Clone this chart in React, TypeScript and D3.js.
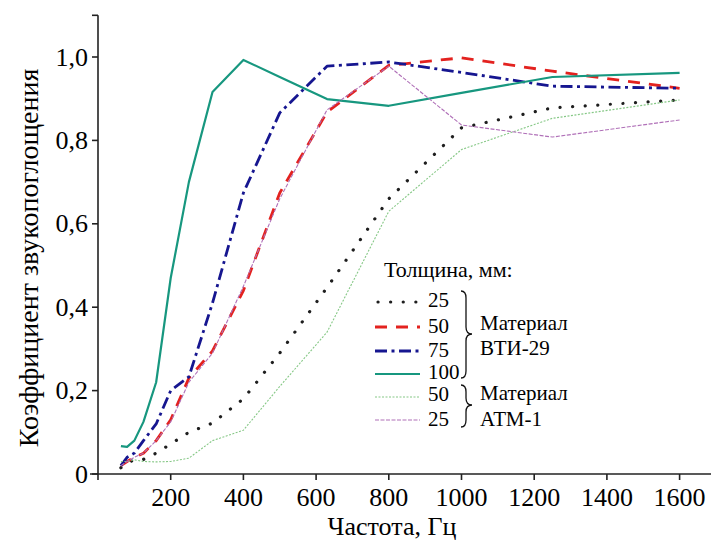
import React from "react";
import * as d3 from "d3";

// частоты, Гц
const freqs = [63, 80, 100, 125, 160, 200, 250, 315, 400, 500, 630, 800, 1000, 1250, 1600];

// ВТИ-29
const vti25 = [0.015, 0.025, 0.035, 0.035, 0.05, 0.072, 0.1, 0.122, 0.18, 0.29, 0.447, 0.66, 0.83, 0.878, 0.897];
const vti50 = [0.02, 0.03, 0.04, 0.05, 0.08, 0.13, 0.23, 0.295, 0.44, 0.674, 0.868, 0.98, 0.998, 0.966, 0.925];
const vti75 = [0.02, 0.04, 0.05, 0.08, 0.12, 0.2, 0.233, 0.41, 0.674, 0.866, 0.978, 0.988, 0.963, 0.93, 0.925];
const vti100 = [0.067, 0.065, 0.08, 0.125, 0.22, 0.47, 0.7, 0.916, 0.993, 0.952, 0.899, 0.883, 0.914, 0.952, 0.962];

// АТМ-1
const atm50 = [0.03, 0.03, 0.034, 0.03, 0.029, 0.03, 0.038, 0.08, 0.105, 0.21, 0.34, 0.63, 0.778, 0.853, 0.897];
const atm25 = [0.02, 0.03, 0.04, 0.05, 0.08, 0.125, 0.22, 0.29, 0.45, 0.66, 0.873, 0.978, 0.837, 0.808, 0.849];

const xTicks = [0, 200, 400, 600, 800, 1000, 1200, 1400, 1600];
const yTicks = [0, 0.2, 0.4, 0.6, 0.8, 1.0];

const legendLabels = ["25", "50", "75", "100", "50", "25"];
const groupLabels = [["Материал", "ВТИ-29"], ["Материал", "АТМ-1"]];

const FONT = "Liberation Serif";

const width = 711;
const height = 540;

const x = d3.scaleLinear().domain([0, 1690]).range([98, 98 + 1690 * 0.3635]);
const y = d3.scaleLinear().domain([0, 1.1]).range([474, 474 - 1.1 * 417]);

const series = [
    { values: vti25, color: "#1e1e1e", width: 3.2, dash: "0.1 12.5", cap: "round" },
    { values: vti50, color: "#e3221f", width: 2.8, dash: "12 9", cap: "butt" },
    { values: vti75, color: "#161690", width: 2.8, dash: "12 4.5 3 4.5", cap: "butt" },
    { values: vti100, color: "#17977f", width: 2.2, dash: undefined, cap: "butt" },
    { values: atm50, color: "#86c886", width: 1.1, dash: "2 1.5", cap: "butt" },
    { values: atm25, color: "#b070b8", width: 1.1, dash: "4 1.5", cap: "butt" },
];

const rowY = [302, 327, 351, 374, 397, 420];
const labelY = [307, 333, 357, 379, 401, 426];

const braces = [
    { top: 291, bottom: 378, mid: 334, textY: [330, 355] },
    { top: 385, bottom: 427, mid: 405, textY: [400, 426] },
];

function bracePath(x0: number, top: number, bottom: number, mid: number) {
    return `M${x0},${top} Q${x0 + 5},${top} ${x0 + 5},${top + 7} L${x0 + 5},${mid - 7} ` +
        `Q${x0 + 5},${mid} ${x0 + 11},${mid} Q${x0 + 5},${mid} ${x0 + 5},${mid + 7} ` +
        `L${x0 + 5},${bottom - 7} Q${x0 + 5},${bottom} ${x0},${bottom}`;
}

const fmtY = (v: number) => (v === 0 ? "0" : d3.format(".1f")(v).replace(".", ","));

export default function App() {
    const line = d3.line<number>()
        .x((_, i) => x(freqs[i]))
        .y((d) => y(d));

    const axisColor = "#222";

    return (
        <svg
            width={width}
            height={height}
            style={{ position: "absolute", left: 0, top: 0, background: "#fff", fontFamily: FONT }}
        >
            {/* x axis */}
            <line x1={90} x2={width} y1={474} y2={474} stroke={axisColor} strokeWidth={1.6} />
            {xTicks.map((t) => (
                <g key={t} transform={`translate(${x(t)},474)`}>
                    <line y2={6} stroke={axisColor} strokeWidth={1.6} />
                    {t !== 0 && (
                        <text y={32} textAnchor="middle" style={{ fontFamily: FONT, fontSize: "26px" }}>
                            {t}
                        </text>
                    )}
                </g>
            ))}

            {/* y axis */}
            <line x1={98} x2={98} y1={y(1.1)} y2={474} stroke={axisColor} strokeWidth={1.6} />
            <line x1={92} x2={98} y1={y(1.1)} y2={y(1.1)} stroke={axisColor} strokeWidth={1.6} />
            {yTicks.map((t) => (
                <g key={t} transform={`translate(98,${y(t)})`}>
                    <line x2={-6} stroke={axisColor} strokeWidth={1.6} />
                    <text x={-10} dy="0.33em" textAnchor="end" style={{ fontFamily: FONT, fontSize: "26px" }}>
                        {fmtY(t)}
                    </text>
                </g>
            ))}

            {/* titles */}
            <text x={392} y={535} textAnchor="middle" style={{ fontFamily: FONT, fontSize: "26px" }}>
                Частота, Гц
            </text>
            <text
                transform="translate(38,258) rotate(-90)"
                textAnchor="middle"
                style={{ fontFamily: FONT, fontSize: "28px" }}
            >
                Коэффициент звукопоглощения
            </text>

            {/* curves */}
            {series.map((s, i) => (
                <path
                    key={i}
                    d={line(s.values) || ""}
                    fill="none"
                    stroke={s.color}
                    strokeWidth={s.width}
                    strokeLinecap={s.cap as "round" | "butt"}
                    strokeLinejoin="round"
                    strokeDasharray={s.dash}
                />
            ))}

            {/* legend */}
            <g style={{ fontFamily: FONT, fontSize: "21px" }}>
                <text x={384} y={277} style={{ fontSize: "22px" }}>Толщина, мм:</text>
                {series.map((s, i) => (
                    <g key={i}>
                        <line
                            x1={s.cap === "round" ? 378 : 375}
                            x2={420}
                            y1={rowY[i]}
                            y2={rowY[i]}
                            stroke={s.color}
                            strokeWidth={s.width}
                            strokeLinecap={s.cap as "round" | "butt"}
                            strokeDasharray={s.dash}
                        />
                        <text x={428} y={labelY[i]}>{legendLabels[i]}</text>
                    </g>
                ))}
                {braces.map((b, i) => (
                    <g key={i}>
                        <path
                            d={bracePath(461, b.top, b.bottom, b.mid)}
                            fill="none"
                            stroke="#111"
                            strokeWidth={1.3}
                        />
                        {groupLabels[i].map((t, j) => (
                            <text key={j} x={480} y={b.textY[j]}>{t}</text>
                        ))}
                    </g>
                ))}
            </g>
        </svg>
    );
}
